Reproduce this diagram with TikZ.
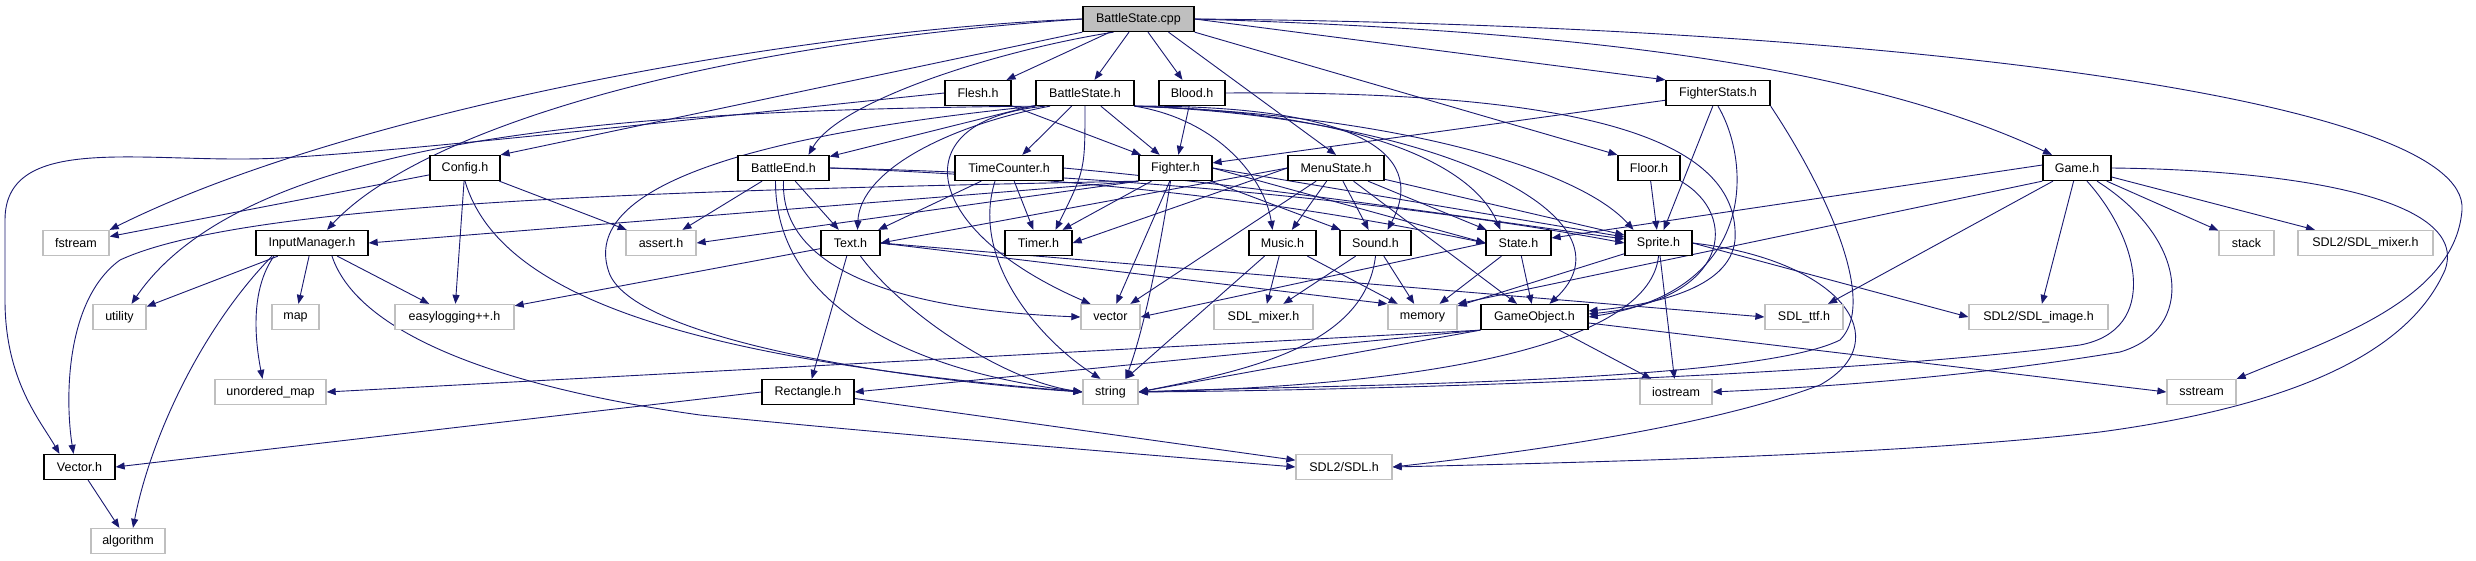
\documentclass[tikz,border=0pt]{standalone}
\usepackage{fontspec}
\setmainfont{Liberation Sans}
\usetikzlibrary{arrows.meta}
\pgfdeclarelayer{back}
\pgfdeclarelayer{bg}
\pgfsetlayers{back,bg,main}
\definecolor{edgec}{HTML}{191970}
\definecolor{extc}{HTML}{BFBFBF}
\begin{document}
\begin{tikzpicture}[x=1pt,y=-1pt,
  box/.style={draw=black, line width=1.3pt, fill=white, minimum height=25pt, inner sep=0pt, font=\fontsize{12.5}{14}\selectfont},
  ext/.style={box, draw=extc},
  root/.style={box, fill=extc},
  e/.style={draw=edgec, line width=0.9pt, -{Triangle[length=9pt,width=7pt]}}]
\useasboundingbox (0,0) rectangle (2476,560);
\begin{pgfonlayer}{back}
\fill[white] (0,0) rectangle (2476,560);
\end{pgfonlayer}
% row 0
\node[root, minimum width=111] (cpp) at (1138.5,19) {BattleState.cpp};
% row 1
\node[box, minimum width=66] (flesh) at (978,93) {Flesh.h};
\node[box, minimum width=98] (bsh) at (1085,93) {BattleState.h};
\node[box, minimum width=66] (blood) at (1192,93) {Blood.h};
\node[box, minimum width=104] (fstats) at (1718,93) {FighterStats.h};
% row 2
\node[box, minimum width=70] (config) at (465,168) {Config.h};
\node[box, minimum width=91] (bend) at (783.5,168) {BattleEnd.h};
\node[box, minimum width=108] (tcount) at (1009,168) {TimeCounter.h};
\node[box, minimum width=73] (fighter) at (1175.5,168) {Fighter.h};
\node[box, minimum width=96] (menu) at (1336,168) {MenuState.h};
\node[box, minimum width=62] (floor) at (1649,168) {Floor.h};
\node[box, minimum width=68] (game) at (2077,168) {Game.h};
% row 3
\node[ext, minimum width=66] (fstream) at (76,243) {fstream};
\node[box, minimum width=112] (input) at (312,243) {InputManager.h};
\node[ext, minimum width=70] (assert) at (661,243) {assert.h};
\node[box, minimum width=59] (text) at (850.5,243) {Text.h};
\node[box, minimum width=67] (timer) at (1038.5,243) {Timer.h};
\node[box, minimum width=67] (music) at (1282.5,243) {Music.h};
\node[box, minimum width=71] (sound) at (1375.5,243) {Sound.h};
\node[box, minimum width=65] (state) at (1518.5,243) {State.h};
\node[box, minimum width=67] (sprite) at (1658.5,243) {Sprite.h};
\node[ext, minimum width=55] (stack) at (2246.5,243) {stack};
\node[ext, minimum width=135] (sdlmixer2) at (2365.5,243) {SDL2/SDL\_mixer.h};
% row 4
\node[ext, minimum width=53] (utility) at (119.5,317) {utility};
\node[ext, minimum width=47] (map) at (295.5,317) {map};
\node[ext, minimum width=119] (easylog) at (454.5,317) {easylogging++.h};
\node[ext, minimum width=59] (vector) at (1110.5,317) {vector};
\node[ext, minimum width=99] (sdlmixer) at (1263.5,317) {SDL\_mixer.h};
\node[ext, minimum width=69] (memory) at (1422.5,317) {memory};
\node[box, minimum width=107] (gameobj) at (1534.5,317) {GameObject.h};
\node[ext, minimum width=78] (sdlttf) at (1804,317) {SDL\_ttf.h};
\node[ext, minimum width=139] (sdlimage) at (2038.5,317) {SDL2/SDL\_image.h};
% row 5
\node[ext, minimum width=111] (umap) at (270.5,392) {unordered\_map};
\node[box, minimum width=92] (rect) at (808,392) {Rectangle.h};
\node[ext, minimum width=55] (string) at (1110.5,392) {string};
\node[ext, minimum width=72] (iostream) at (1676,392) {iostream};
\node[ext, minimum width=69] (sstream) at (2201.5,392) {sstream};
% row 6
\node[box, minimum width=71] (vec) at (79.5,467) {Vector.h};
\node[ext, minimum width=96] (sdl) at (1344,467) {SDL2/SDL.h};
% row 7
\node[ext, minimum width=74] (algorithm) at (128,541) {algorithm};

\begin{pgfonlayer}{bg}
% BattleState.cpp
\draw[e] (cpp.west) .. controls (800,30) and (350,110) .. (fstream.north east);
\draw[e] (cpp.west) .. controls (700,45) and (420,130) .. ([xshift=15]input.north);
\draw[e] (cpp.south west) -- (config.north east);
\draw[e] ([xshift=-25]cpp.south) .. controls (1000,50) and (840,100) .. ([xshift=25]bend.north);
\draw[e] (cpp) -- (flesh);
\draw[e] (cpp) -- (bsh);
\draw[e] (cpp) -- (blood);
\draw[e] ([xshift=30]cpp.south) -- (menu.north);
\draw[e] (cpp.south east) -- (floor.north west);
\draw[e] (cpp.east) -- (fstats.north west);
\draw[e] (cpp.east) .. controls (1550,30) and (1850,60) .. ([xshift=-25]game.north);
\draw[e] (cpp.east) .. controls (1900,25) and (2470,100) .. (2462,210) .. controls (2455,300) and (2330,340) .. (sstream.north east);
% Config.h
\draw[e] (config) -- (fstream);
\draw[e] (config) -- (easylog);
\draw[e] (config) -- (assert);
\draw[e] (config.south) .. controls (500,300) and (700,360) .. (string.west);
% InputManager.h
\draw[e] (input) -- (utility);
\draw[e] (input) -- (map);
\draw[e] (input) -- (easylog);
\draw[e] ([xshift=-38]input.south) .. controls (250,290) and (255,340) .. ([xshift=-8]umap.north);
\draw[e] ([xshift=-40]input.south) .. controls (200,330) and (150,440) .. ([xshift=5]algorithm.north);
\draw[e] ([xshift=20]input.south) .. controls (360,340) and (520,390) .. (700,415) .. controls (900,435) and (1150,455) .. (sdl.west);
% Flesh.h
\draw[e] (flesh) -- (fighter);
\draw[e] (flesh.west) .. controls (700,118) and (420,150) .. (280,158) .. controls (150,165) and (5,130) .. (5,220) -- (5,300) .. controls (5,380) and (40,420) .. ([xshift=-20]vec.north);
% BattleState.h
\draw[e] (bsh) -- (bend);
\draw[e] (bsh) -- (tcount);
\draw[e] (bsh) -- (fighter);
\draw[e] ([xshift=-35]bsh.south) .. controls (950,125) and (860,170) .. ([xshift=7]text.north);
\draw[e] (bsh.south) .. controls (1085,170) .. ([xshift=17]timer.north);
\draw[e] ([xshift=-40]bsh.south) .. controls (900,120) and (920,230) .. ([xshift=-20]vector.north);
\draw[e] (bsh.south west) .. controls (700,140) and (580,200) .. (610,275) .. controls (640,340) and (900,380) .. (string.west);
\draw[e] (bsh.south west) .. controls (650,110) and (250,130) .. ([xshift=12]utility.north);
\draw[e] (bsh.south east) .. controls (1220,120) and (1265,180) .. ([xshift=-10]music.north);
\draw[e] (bsh.south east) .. controls (1350,105) and (1430,150) .. ([xshift=12]sound.north);
\draw[e] (bsh.south east) .. controls (1350,112) and (1470,160) .. ([xshift=-18]state.north);
\draw[e] (bsh.south east) .. controls (1400,115) and (1580,170) .. ([xshift=-25]sprite.north);
\draw[e] (bsh.south east) .. controls (1450,118) and (1640,220) .. ([xshift=15]gameobj.north);
% Blood.h
\draw[e] (blood) -- (fighter);
\draw[e] (blood.east) .. controls (1620,90) and (1740,150) .. (1735,240) .. controls (1730,290) and (1650,305) .. ([yshift=6]gameobj.east);
% FighterStats.h
\draw[e] (fstats) -- (fighter);
\draw[e] (fstats) -- (sprite);
\draw[e] (fstats.south) .. controls (1750,160) and (1760,290) .. (gameobj.east);
\draw[e] (fstats.south east) .. controls (1820,180) and (1880,300) .. (1840,340) .. controls (1750,385) and (1300,385) .. (string.east);
% BattleEnd.h
\draw[e] (bend) -- (assert);
\draw[e] (bend) -- (text);
\draw[e] (bend.south) .. controls (780,270) and (900,310) .. (vector.west);
\draw[e] ([xshift=-8]bend.south) .. controls (775,300) and (900,370) .. (string.west);
\draw[e] (bend.east) .. controls (1150,180) and (1350,215) .. (state.west);
\draw[e] (bend.east) .. controls (1150,175) and (1450,210) .. (sprite.west);
% TimeCounter.h
\draw[e] (tcount) -- (text);
\draw[e] (tcount) -- (timer);
\draw[e] ([xshift=-14]tcount.south) .. controls (970,260) and (1040,340) .. ([xshift=-10]string.north);
\draw[e] (tcount.east) .. controls (1250,185) and (1450,215) .. ([yshift=4]sprite.west);
% Fighter.h
\draw[e] (fighter.south west) -- (input.east);
\draw[e] (fighter.south west) .. controls (700,190) and (250,200) .. (120,260) .. controls (65,300) and (65,400) .. ([xshift=-6]vec.north);
\draw[e] (fighter.south west) -- (assert.east);
\draw[e] (fighter) -- (timer);
\draw[e] (fighter) -- (vector);
\draw[e] ([xshift=-5]fighter.south) .. controls (1155,280) and (1140,340) .. ([xshift=15]string.north);
\draw[e] (fighter) -- (sound);
\draw[e] (fighter.east) -- (state.west);
\draw[e] (fighter.east) -- ([yshift=6]sprite.west);
% MenuState.h
\draw[e] (menu.west) -- (text.east);
\draw[e] (menu.west) -- (timer.east);
\draw[e] (menu) -- (vector);
\draw[e] (menu) -- (music);
\draw[e] (menu) -- (sound);
\draw[e] (menu) -- (state);
\draw[e] (menu) -- (sprite);
\draw[e] (menu) -- (gameobj);
% Floor.h
\draw[e] (floor) -- (sprite);
\draw[e] (floor.south east) .. controls (1740,215) and (1730,300) .. ([yshift=3]gameobj.east);
% Game.h
\draw[e] ([yshift=3]game.west) -- ([yshift=5]state.east);
\draw[e] (game.south west) -- (memory.north east);
\draw[e] (game) -- (sdlttf);
\draw[e] (game) -- (sdlimage);
\draw[e] ([xshift=10]game.south) .. controls (2140,240) and (2160,330) .. (2080,345) .. controls (1850,375) and (1400,390) .. (string.east);
\draw[e] ([xshift=20]game.south) .. controls (2190,240) and (2195,330) .. (2120,352) .. controls (1950,380) and (1800,388) .. (iostream.east);
\draw[e] (game) -- (stack);
\draw[e] (game) -- (sdlmixer2);
\draw[e] (game.east) .. controls (2300,170) and (2470,200) .. (2445,270) .. controls (2410,350) and (2300,405) .. (2100,432) .. controls (1900,455) and (1600,462) .. (sdl.east);
% Text.h
\draw[e] (text) -- (easylog);
\draw[e] (text) -- (rect);
\draw[e] ([xshift=10]text.south) .. controls (900,310) and (1000,380) .. (string.west);
\draw[e] (text.east) -- (memory.north west);
\draw[e] (text.east) -- (sdlttf.west);
% Music.h
\draw[e] (music) -- (sdlmixer);
\draw[e] (music) -- (memory);
\draw[e] ([xshift=-18]music.south) -- ([xshift=15]string.north);
% Sound.h
\draw[e] (sound) -- (sdlmixer);
\draw[e] (sound) -- (memory);
\draw[e] (sound.south) .. controls (1365,345) and (1250,370) .. (string.east);
% State.h
\draw[e] (state.west) -- (vector.east);
\draw[e] (state) -- (memory);
\draw[e] (state) -- (gameobj);
% Sprite.h
\draw[e] (sprite) -- (memory);
\draw[e] (sprite.south) .. controls (1650,340) and (1450,385) .. (string.east);
\draw[e] (sprite) -- (iostream);
\draw[e] (sprite.east) -- (sdlimage.west);
\draw[e] (sprite.east) .. controls (1840,260) and (1900,340) .. (1820,385) .. controls (1700,430) and (1500,455) .. (sdl.east);
% GameObject.h
\draw[e] (gameobj.south west) -- (rect.east);
\draw[e] (gameobj.south west) -- (umap.east);
\draw[e] (gameobj.south west) -- (string.east);
\draw[e] (gameobj) -- (iostream);
\draw[e] ([yshift=-6]gameobj.east) -- (sstream.west);
% Rectangle.h
\draw[e] (rect.west) -- (vec.east);
\draw[e] (rect) -- (sdl);
% Vector.h
\draw[e] (vec) -- (algorithm);
\end{pgfonlayer}
\end{tikzpicture}
\end{document}
